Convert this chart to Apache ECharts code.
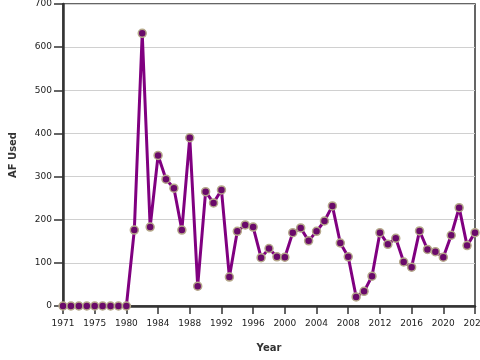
<!DOCTYPE html>
<html><head><meta charset="utf-8">
<script src="https://cdn.jsdelivr.net/npm/echarts@6/dist/echarts.min.js"></script>
<style>html,body{margin:0;padding:0;background:#fff}#c{width:480px;height:360px}</style>
</head><body><div id="c"></div>
<script>
const years = ['1971','1972','1973','1974','1975','1977','1978','1979','1980',
 '1981','1982','1983','1984','1985','1986','1987','1988','1989','1990',
 '1991','1992','1993','1994','1995','1996','1997','1998','1999','2000',
 '2001','2002','2003','2004','2005','2006','2007','2008','2009','2010',
 '2011','2012','2013','2014','2015','2016','2017','2018','2019','2020',
 '2021','2022','2023','2024'];
const afUsed = [0,0,0,0,0,0,0,0,0,
 176,632,183,349,294,273,176,390,46,265,
 239,269,67,173,188,183,112,133,114,113,
 170,181,151,173,197,232,146,114,21,34,
 69,170,143,157,102,90,174,131,126,113,
 164,228,140,170];
const yTicks = [0,100,200,300,400,500,600,700];
const xName = 'Year', yName = 'AF Used';

const chart = echarts.init(document.getElementById('c'), null, {renderer:'canvas'});
const font = 'DejaVu Sans';
chart.setOption({
  animation:false,
  grid:{left:63,right:5,top:4,bottom:54,containLabel:false,outerBoundsMode:'none',
    show:true,borderColor:'#333',borderWidth:1.5,backgroundColor:'transparent'},
  xAxis:{type:'category',data:years,boundaryGap:false,
    name:xName,nameLocation:'middle',nameGap:37,
    nameTextStyle:{fontFamily:font,fontSize:10,fontWeight:'bold',color:'#333'},
    axisLine:{lineStyle:{color:'#333',width:2.5}},
    axisTick:{interval:3,length:8,lineStyle:{color:'#333',width:1.5}},
    axisLabel:{interval:3,fontFamily:font,fontSize:9,color:'#222',margin:13,showMaxLabel:true,hideOverlap:false},
    splitLine:{show:false}},
  yAxis:{type:'value',min:yTicks[0],max:yTicks[yTicks.length-1],interval:100,
    name:yName,nameLocation:'middle',nameGap:45,
    nameTextStyle:{fontFamily:font,fontSize:10,fontWeight:'bold',color:'#333'},
    axisLine:{show:true,lineStyle:{color:'#333',width:2.5}},
    axisTick:{show:true,length:9,lineStyle:{color:'#333',width:1.5}},
    axisLabel:{fontFamily:font,fontSize:9,color:'#222',margin:11},
    splitLine:{show:true,lineStyle:{color:'#d0d0d0',width:1}}},
  series:[{type:'line',data:afUsed,
    lineStyle:{color:'#800080',width:3},
    symbol:'circle',symbolSize:8,showSymbol:true,showAllSymbol:true,
    itemStyle:{color:'#6a0a6a',borderColor:'#b5a88a',borderWidth:1.5},
    z:3}]
});
</script></body></html>
